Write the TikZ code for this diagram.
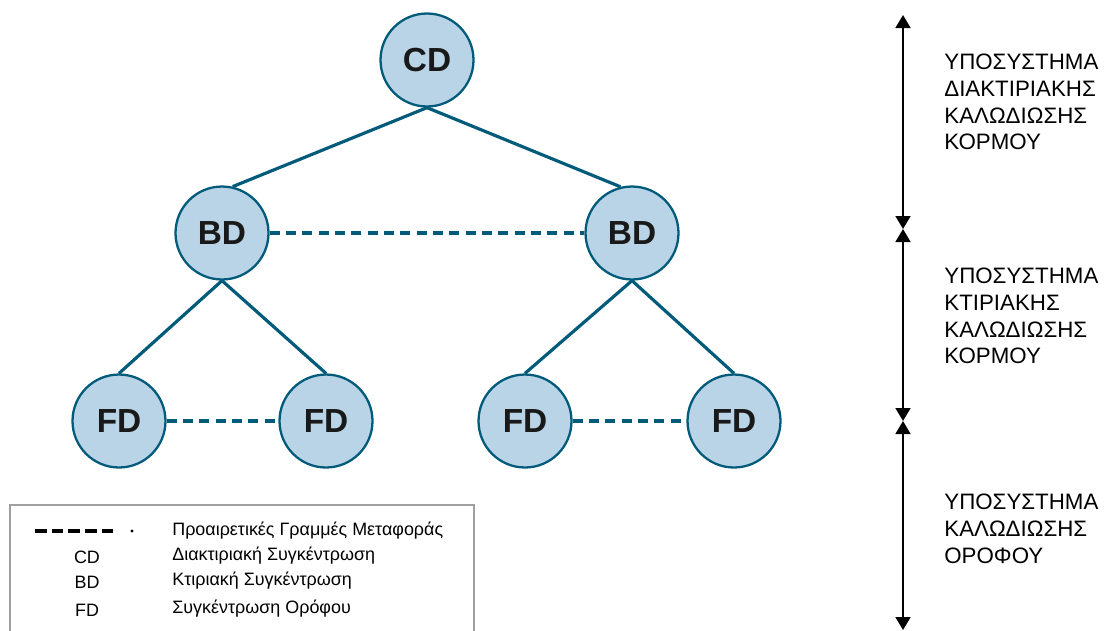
\documentclass[tikz,border=0pt]{standalone}
\usepackage{fontspec}
\setmainfont{Liberation Sans}
\usepackage{tikz}
\usetikzlibrary{positioning}
\usetikzlibrary{arrows.meta}
\definecolor{myblue}{RGB}{185,212,230}
\definecolor{mydarkblue}{RGB}{0,90,122}
\definecolor{mygray}{RGB}{160,160,160}
\tikzstyle{distributor}=[circle, draw=mydarkblue, fill=myblue, line width=1.3pt, minimum size=1.86cm, inner sep=0pt, font=\fontsize{19}{19}\selectfont\bfseries, text=black!90]
\tikzstyle{connect}=[line width=1.8pt, mydarkblue]
\tikzstyle{optional}=[connect, dash pattern=on 5.7pt off 3.6pt]
\tikzstyle{span arrow}=[{Triangle[length=7.4pt,width=8.5pt]}-{Triangle[length=7.4pt,width=8.5pt]}, line width=1.1pt, black]
\tikzstyle{subsystem}=[anchor=west, align=left, inner sep=0pt, font=\fontsize{12.7}{15.2}\selectfont]
\tikzstyle{legend}=[inner sep=0pt, font=\fontsize{10.2}{12}\selectfont]

\begin{document}
\begin{tikzpicture}[x=0.02cm, y=-0.02cm]

\useasboundingbox (0,0) rectangle (1104,630);

% tree of distributors
\node[distributor] (cd) at (427,60) {CD};
\node[distributor] (bd_left) at (222,233) {BD};
\node[distributor] (bd_right) at (632,233) {BD};

\foreach \Z/\X in {1/119,2/326,3/525,4/734}{
    \node[distributor] (fd\Z) at (\X,421) {FD};
}

\begin{scope}[connect]
    \draw (cd.south) -- (bd_left.77);
    \draw (cd.south) -- (bd_right.104);

    \draw (bd_left.south) -- (fd1.north);
    \draw (bd_left.south) -- (fd2.north);
    \draw (bd_right.south) -- (fd3.north);
    \draw (bd_right.south) -- (fd4.north);
\end{scope}

\begin{scope}[optional]
    \draw (bd_left.east) -- (bd_right.west);
    \draw (fd1.east) -- (fd2.west);
    \draw (fd3.east) -- (fd4.west);
\end{scope}

% subsystem spans
\coordinate (span0) at (903,15);
\coordinate (span1) at (903,229);
\coordinate (span2) at (903,421);
\coordinate (span3) at (903,630);

\draw[span arrow] (span0) -- (span1);
\draw[span arrow] (span1) -- (span2);
\draw[span arrow] (span2) -- (span3);

\node[subsystem] (campus_text) at (944,102) {ΥΠΟΣΥΣΤΗΜΑ\\ΔΙΑΚΤΙΡΙΑΚΗΣ\\ΚΑΛΩΔΙΩΣΗΣ\\ΚΟΡΜΟΥ};
\node[subsystem] (building_text) at (944,316) {ΥΠΟΣΥΣΤΗΜΑ\\ΚΤΙΡΙΑΚΗΣ\\ΚΑΛΩΔΙΩΣΗΣ\\ΚΟΡΜΟΥ};
\node[subsystem] (floor_text) at (944,529) {ΥΠΟΣΥΣΤΗΜΑ\\ΚΑΛΩΔΙΩΣΗΣ\\ΟΡΟΦΟΥ};

% legend
\draw[mygray, line width=1.1pt] (10,650) -- (10,505) -- (474,505) -- (474,650);

\coordinate (dash_start) at (35,531);
\coordinate (dash_end) at (114,531);
\draw[black, line width=1.8pt, dash pattern=on 6.6pt off 2.9pt] (dash_start) -- (dash_end);
\fill[black] (132,531) circle (1.6);

\node[legend, anchor=west] (legend_dash) at (172,531) {Προαιρετικές Γραμμές Μεταφοράς};
\node[legend] (legend_cd) at (87,557) {CD};
\node[legend, anchor=west] (legend_cd_text) at (172,556) {Διακτιριακή Συγκέντρωση};
\node[legend] (legend_bd) at (87,582) {BD};
\node[legend, anchor=west] (legend_bd_text) at (172,581) {Κτιριακή Συγκέντρωση};
\node[legend] (legend_fd) at (87,610) {FD};
\node[legend, anchor=west] (legend_fd_text) at (172,609) {Συγκέντρωση Ορόφου};

\end{tikzpicture}
\end{document}
